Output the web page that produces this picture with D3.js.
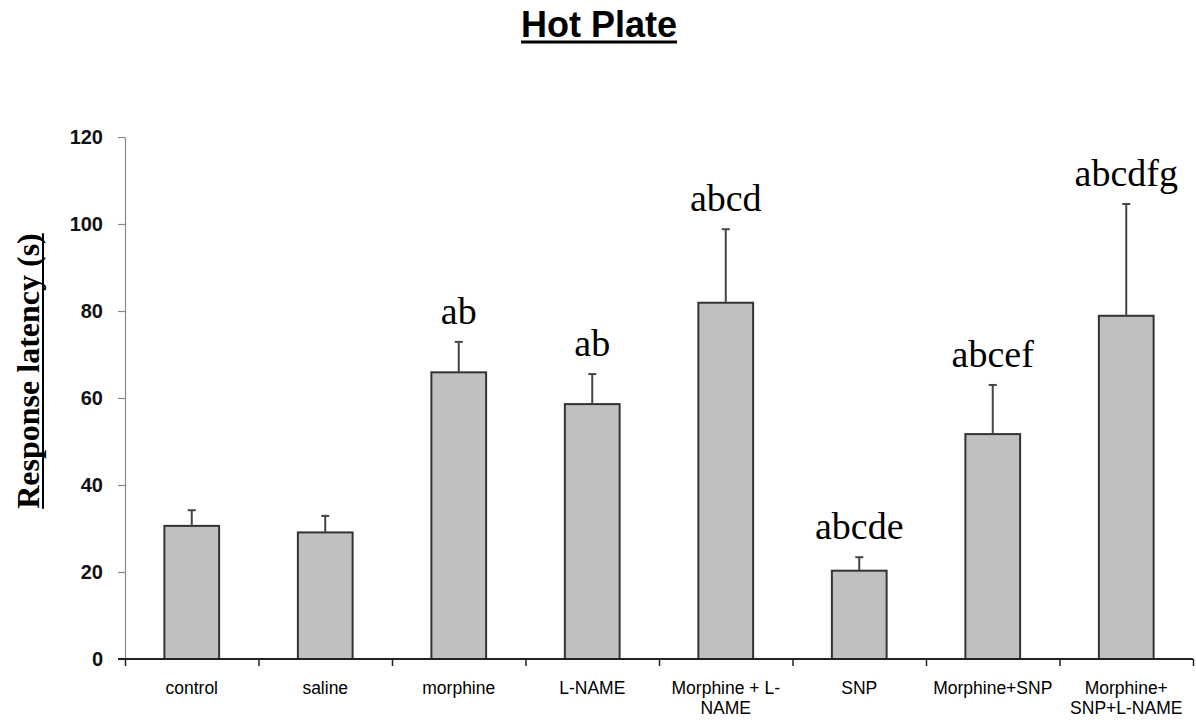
<!DOCTYPE html>
<html>
<head>
<meta charset="utf-8">
<script src="https://cdn.jsdelivr.net/npm/d3@7"></script>
<style>
  body { margin: 0; background: #fff; }
  svg { display: block; }
</style>
</head>
<body>
<div id="chart"></div>
<script>
// groups, two-line labels split on "|"
var groups = [ "control", "saline", "morphine", "L-NAME", "Morphine + L-|NAME", "SNP", "Morphine+SNP", "Morphine+|SNP+L-NAME" ];
var means = [ 30.6, 29.1, 65.9, 58.6, 81.9, 20.3, 51.7, 78.9 ];
var errTops = [ 34.2, 32.9, 72.9, 65.5, 98.8, 23.4, 63.0, 104.6 ];
var letters = [ "", "", "ab", "ab", "abcd", "abcde", "abcef", "abcdfg" ];
var yTicks = [ 0, 20, 40, 60, 80, 100, 120 ];

function draw() {
    var width = 1196, height = 722;
    var mLeft = 125, mRight = 1193, mTop = 137, mBottom = 659;

    var svg = d3.select( "#chart" ).append( "svg" )
        .attr( "width", width )
        .attr( "height", height );

    var x = d3.scaleBand()
        .domain( groups )
        .range( [ mLeft, mRight ] )
        .padding( 0 );

    var y = d3.scaleLinear()
        .domain( [ 0, 120 ] )
        .range( [ mBottom, mTop ] );

    var barW = x.bandwidth() * 0.41;

    // title
    var title = svg.append( "text" )
        .attr( "x", 599 )
        .attr( "y", 37 )
        .attr( "text-anchor", "middle" )
        .style( "font-family", "Liberation Sans, Arial, sans-serif" )
        .style( "font-weight", "bold" )
        .style( "font-size", "36px" )
        .text( "Hot Plate" );
    var tw = title.node().getComputedTextLength();
    svg.append( "line" )
        .attr( "x1", 599 - tw / 2 ).attr( "x2", 599 + tw / 2 )
        .attr( "y1", 42 ).attr( "y2", 42 )
        .attr( "stroke", "#000" ).attr( "stroke-width", 3 );

    // y title
    var yt = svg.append( "text" )
        .attr( "transform", "translate(39,371) rotate(-90)" )
        .attr( "text-anchor", "middle" )
        .style( "font-family", "Liberation Serif, Times New Roman, serif" )
        .style( "font-weight", "bold" )
        .style( "font-size", "32px" )
        .text( "Response latency (s)" );
    var yl = yt.node().getComputedTextLength();
    svg.append( "line" )
        .attr( "x1", 43 ).attr( "x2", 43 )
        .attr( "y1", 371 - yl / 2 ).attr( "y2", 371 + yl / 2 )
        .attr( "stroke", "#000" ).attr( "stroke-width", 2 );

    // y axis
    var yAxis = svg.append( "g" )
        .attr( "transform", "translate(" + mLeft + ",0)" )
        .call( d3.axisLeft( y ).tickValues( yTicks ).tickSize( 7 ).tickPadding( 15 ).tickSizeOuter( 0 ) );
    yAxis.select( ".domain" ).attr( "stroke", "#8a8a8a" ).attr( "stroke-width", 1.2 );
    yAxis.selectAll( ".tick line" ).attr( "stroke", "#8a8a8a" ).attr( "stroke-width", 1.2 );
    yAxis.selectAll( ".tick text" )
        .attr( "fill", "#111" )
        .style( "font-family", "Liberation Sans, Arial, sans-serif" )
        .style( "font-weight", "600" )
        .style( "font-size", "20px" );

    // bars
    svg.append( "g" )
        .selectAll( "rect" )
        .data( groups )
        .enter().append( "rect" )
        .attr( "x", function ( d ) { return x( d ) + ( x.bandwidth() - barW ) / 2; } )
        .attr( "y", function ( d, i ) { return y( means[ i ] ); } )
        .attr( "width", barW )
        .attr( "height", function ( d, i ) { return mBottom - y( means[ i ] ); } )
        .attr( "fill", "#c0c0c0" )
        .attr( "stroke", "#333" )
        .attr( "stroke-width", 2 );

    // error bars (upper only)
    var eb = svg.append( "g" ).selectAll( "g" )
        .data( groups )
        .enter().append( "g" );
    eb.append( "line" )
        .attr( "x1", function ( d ) { return x( d ) + x.bandwidth() / 2; } )
        .attr( "x2", function ( d ) { return x( d ) + x.bandwidth() / 2; } )
        .attr( "y1", function ( d, i ) { return y( means[ i ] ); } )
        .attr( "y2", function ( d, i ) { return y( errTops[ i ] ); } )
        .attr( "stroke", "#444" )
        .attr( "stroke-width", 2 );
    eb.append( "line" )
        .attr( "x1", function ( d ) { return x( d ) + x.bandwidth() / 2 - 4; } )
        .attr( "x2", function ( d ) { return x( d ) + x.bandwidth() / 2 + 4; } )
        .attr( "y1", function ( d, i ) { return y( errTops[ i ] ); } )
        .attr( "y2", function ( d, i ) { return y( errTops[ i ] ); } )
        .attr( "stroke", "#444" )
        .attr( "stroke-width", 2 );

    // significance letters
    svg.append( "g" ).selectAll( "text" )
        .data( groups )
        .enter().append( "text" )
        .attr( "x", function ( d ) { return x( d ) + x.bandwidth() / 2; } )
        .attr( "y", function ( d, i ) { return y( errTops[ i ] ) - 18; } )
        .attr( "text-anchor", "middle" )
        .style( "font-family", "Liberation Serif, Times New Roman, serif" )
        .style( "font-size", "38px" )
        .text( function ( d, i ) { return letters[ i ]; } );

    // x axis: ticks on band boundaries
    var xEdge = d3.scaleLinear().domain( [ 0, groups.length ] ).range( [ mLeft, mRight ] );
    var xAxis = svg.append( "g" )
        .attr( "transform", "translate(0," + mBottom + ")" )
        .call( d3.axisBottom( xEdge ).tickValues( d3.range( groups.length + 1 ) ).tickSize( 7 ).tickSizeOuter( 0 ).tickFormat( "" ) );
    xAxis.select( ".domain" ).attr( "stroke", "#222" ).attr( "stroke-width", 2 ).attr( "d", "M118,0H" + mRight );
    xAxis.selectAll( ".tick line" ).attr( "stroke", "#222" ).attr( "stroke-width", 1.5 );

    // category labels
    var lab = svg.append( "g" ).selectAll( "text" )
        .data( groups )
        .enter().append( "text" )
        .attr( "y", 694 )
        .attr( "text-anchor", "middle" )
        .style( "font-family", "Liberation Sans, Arial, sans-serif" )
        .style( "font-size", "17.5px" );
    lab.each( function ( d ) {
        var cx = x( d ) + x.bandwidth() / 2;
        d3.select( this ).selectAll( "tspan" )
            .data( d.split( "|" ) )
            .enter().append( "tspan" )
            .attr( "x", cx )
            .attr( "dy", function ( s, i ) { return i === 0 ? 0 : 20; } )
            .text( function ( s ) { return s; } );
    } );
}

draw();
</script>
</body>
</html>
